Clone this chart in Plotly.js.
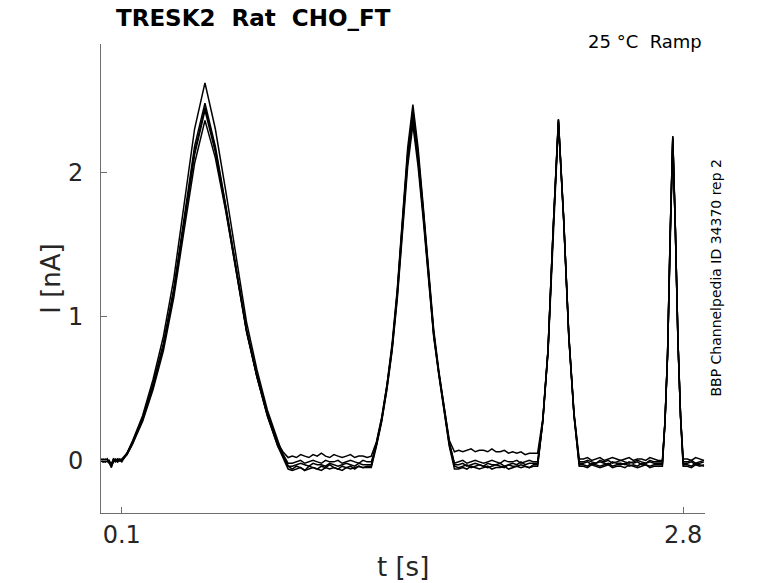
<!DOCTYPE html>
<html>
<head>
<meta charset="utf-8">
<script src="https://cdn.plot.ly/plotly-3.0.1.min.js"></script>
<style>
  html, body { margin: 0; padding: 0; background: #fff; }
  #chart { width: 778px; height: 583px; }
</style>
</head>
<body>
<div id="chart"></div>
<script>
/* =============================================
   TRESK2 ramp sweeps — Plotly recreation
   ============================================= */

// ── Data ──────────────────────────────────────
const tSec = [
  0.00, 0.01, 0.02, 0.03, 0.04, 0.05, 0.06, 0.07, 0.08, 0.09,
  0.10, 0.125, 0.15, 0.20, 0.25, 0.30, 0.35, 0.40, 0.45, 0.50, 0.55, 0.60, 0.65, 0.70, 0.75, 0.80, 0.85, 0.875, 0.90,
  0.92, 0.94, 0.96, 0.98, 1.00, 1.02, 1.04, 1.06, 1.08, 1.10, 1.12, 1.14, 1.16, 1.18, 1.20, 1.22, 1.24, 1.26, 1.28,
  1.30, 1.325, 1.35, 1.375, 1.40, 1.425, 1.45, 1.475, 1.50, 1.525, 1.55, 1.575, 1.60, 1.625, 1.65, 1.675, 1.70,
  1.72, 1.74, 1.76, 1.78, 1.80, 1.82, 1.84, 1.86, 1.88, 1.90, 1.92, 1.94, 1.96, 1.98, 2.00, 2.02, 2.04, 2.06, 2.08,
  2.10, 2.125, 2.15, 2.175, 2.20, 2.225, 2.25, 2.275, 2.30,
  2.32, 2.34, 2.36, 2.38, 2.40, 2.42, 2.44, 2.46, 2.48, 2.50, 2.52, 2.54, 2.56, 2.58, 2.60, 2.62, 2.64, 2.66, 2.68,
  2.70, 2.7125, 2.725, 2.7375, 2.75, 2.7625, 2.775, 2.7875, 2.80,
  2.82, 2.84, 2.86, 2.88, 2.90,
];

const sweepA = [
  0.00, -0.01, 0.01, 0.00, -0.02, -0.05, 0.00, 0.01, -0.01, 0.00,
  0.00, 0.05, 0.13, 0.31, 0.56, 0.86, 1.26, 1.79, 2.30, 2.62, 2.30, 1.87, 1.42, 0.96, 0.63, 0.35, 0.14, 0.04, -0.04,
  -0.06, -0.04, -0.05, -0.07, -0.04, -0.05, -0.06, -0.04, -0.05, -0.03, -0.05, -0.06, -0.04, -0.05, -0.04, -0.06, -0.04, -0.05, -0.04,
  -0.04, 0.12, 0.29, 0.52, 0.81, 1.19, 1.68, 2.17, 2.47, 2.17, 1.76, 1.34, 0.91, 0.62, 0.36, 0.13, -0.03,
  -0.03, -0.02, -0.04, -0.03, -0.02, -0.03, -0.04, -0.02, -0.03, -0.03, -0.02, -0.04, -0.03, -0.02, -0.03, -0.01, -0.03, -0.02, -0.02,
  -0.02, 0.28, 0.77, 1.62, 2.37, 1.69, 0.87, 0.32, -0.02,
  -0.02, -0.01, -0.03, -0.02, -0.01, -0.02, -0.03, -0.01, -0.02, -0.02, -0.03, -0.01, -0.02, -0.01, -0.03, -0.02, -0.01, -0.02, -0.02,
  -0.02, 0.27, 0.74, 1.57, 2.25, 1.61, 0.83, 0.31, -0.02,
  -0.02, -0.01, -0.03, -0.02, -0.01,
];

const sweepB = [
  0.01, 0.00, -0.01, 0.01, -0.01, -0.03, 0.01, 0.00, 0.01, 0.00,
  0.01, 0.05, 0.12, 0.29, 0.53, 0.81, 1.19, 1.69, 2.18, 2.48, 2.18, 1.77, 1.35, 0.91, 0.60, 0.33, 0.12, 0.06, 0.02,
  0.03, 0.02, 0.04, 0.03, 0.02, 0.04, 0.03, 0.05, 0.03, 0.02, 0.04, 0.03, 0.02, 0.03, 0.04, 0.02, 0.03, 0.03, 0.02,
  0.03, 0.13, 0.30, 0.52, 0.79, 1.17, 1.66, 2.13, 2.43, 2.13, 1.74, 1.32, 0.89, 0.61, 0.36, 0.14, 0.06,
  0.07, 0.06, 0.07, 0.08, 0.06, 0.07, 0.07, 0.06, 0.08, 0.06, 0.06, 0.07, 0.05, 0.06, 0.05, 0.06, 0.04, 0.05, 0.05,
  0.05, 0.29, 0.77, 1.61, 2.36, 1.68, 0.87, 0.33, 0.01,
  0.01, 0.02, 0.00, 0.01, 0.02, 0.00, 0.01, 0.02, 0.01, 0.00, 0.01, 0.02, 0.00, 0.01, 0.01, 0.00, 0.02, 0.01, 0.00,
  0.00, 0.27, 0.74, 1.56, 2.24, 1.60, 0.83, 0.31, 0.01,
  0.01, 0.00, 0.02, 0.01, 0.00,
];

const sweepC = [
  -0.01, 0.01, 0.00, -0.01, 0.00, -0.04, -0.01, 0.00, 0.00, 0.01,
  0.00, 0.04, 0.11, 0.28, 0.51, 0.79, 1.17, 1.66, 2.14, 2.45, 2.16, 1.76, 1.34, 0.90, 0.58, 0.32, 0.11, 0.04, -0.02,
  -0.02, -0.01, 0.00, -0.02, -0.01, 0.00, -0.01, -0.02, 0.00, -0.01, -0.01, 0.00, -0.02, -0.01, 0.00, -0.01, -0.02, 0.00, -0.01,
  -0.01, 0.11, 0.28, 0.51, 0.78, 1.16, 1.64, 2.11, 2.40, 2.11, 1.72, 1.31, 0.88, 0.60, 0.35, 0.12, -0.02,
  -0.01, 0.00, -0.02, -0.01, 0.00, -0.01, -0.02, -0.01, 0.00, -0.01, -0.02, 0.00, -0.01, -0.01, 0.00, -0.02, -0.01, 0.00, -0.01,
  -0.01, 0.28, 0.76, 1.61, 2.35, 1.68, 0.86, 0.32, -0.01,
  -0.01, 0.00, -0.01, -0.02, 0.00, -0.01, 0.00, -0.02, -0.01, 0.00, -0.01, -0.02, -0.01, 0.00, -0.01, -0.02, 0.00, -0.01, -0.01,
  -0.01, 0.26, 0.73, 1.56, 2.23, 1.60, 0.82, 0.30, -0.01,
  -0.01, 0.00, -0.02, -0.01, 0.00,
];

const sweepD = [
  0.00, 0.00, -0.01, 0.01, -0.02, -0.02, 0.00, -0.01, 0.01, 0.00,
  -0.01, 0.05, 0.12, 0.29, 0.52, 0.80, 1.18, 1.65, 2.12, 2.43, 2.14, 1.74, 1.32, 0.89, 0.58, 0.31, 0.10, 0.03, -0.04,
  -0.04, -0.03, -0.02, -0.03, -0.04, -0.02, -0.03, -0.03, -0.04, -0.02, -0.03, -0.04, -0.03, -0.02, -0.03, -0.04, -0.02, -0.03, -0.03,
  -0.03, 0.11, 0.28, 0.50, 0.77, 1.14, 1.62, 2.08, 2.37, 2.08, 1.70, 1.29, 0.87, 0.60, 0.34, 0.11, -0.04,
  -0.05, -0.04, -0.03, -0.05, -0.04, -0.03, -0.04, -0.05, -0.04, -0.03, -0.04, -0.05, -0.03, -0.04, -0.04, -0.03, -0.04, -0.05, -0.03,
  -0.03, 0.27, 0.76, 1.61, 2.36, 1.69, 0.86, 0.31, -0.03,
  -0.03, -0.04, -0.02, -0.03, -0.04, -0.03, -0.02, -0.04, -0.03, -0.03, -0.02, -0.04, -0.03, -0.04, -0.02, -0.03, -0.04, -0.03, -0.03,
  -0.03, 0.27, 0.74, 1.57, 2.25, 1.61, 0.83, 0.30, -0.03,
  -0.03, -0.04, -0.02, -0.03, -0.04,
];

const sweepE = [
  0.01, -0.01, 0.00, 0.00, -0.01, -0.03, 0.01, 0.00, -0.01, 0.00,
  0.00, 0.04, 0.11, 0.27, 0.49, 0.76, 1.13, 1.60, 2.06, 2.36, 2.10, 1.73, 1.32, 0.90, 0.58, 0.31, 0.10, 0.02, -0.06,
  -0.07, -0.06, -0.05, -0.07, -0.06, -0.05, -0.06, -0.07, -0.05, -0.06, -0.05, -0.06, -0.07, -0.05, -0.06, -0.05, -0.04, -0.05, -0.05,
  -0.05, 0.10, 0.27, 0.49, 0.76, 1.12, 1.59, 2.04, 2.33, 2.04, 1.67, 1.27, 0.86, 0.59, 0.33, 0.10, -0.06,
  -0.06, -0.05, -0.06, -0.04, -0.05, -0.06, -0.05, -0.04, -0.06, -0.05, -0.05, -0.04, -0.06, -0.05, -0.04, -0.05, -0.04, -0.05, -0.04,
  -0.04, 0.27, 0.75, 1.60, 2.34, 1.67, 0.85, 0.31, -0.04,
  -0.04, -0.05, -0.03, -0.04, -0.05, -0.04, -0.03, -0.05, -0.04, -0.04, -0.05, -0.03, -0.04, -0.05, -0.04, -0.03, -0.05, -0.04, -0.04,
  -0.04, 0.26, 0.73, 1.55, 2.22, 1.59, 0.82, 0.30, -0.04,
  -0.04, -0.05, -0.03, -0.04, -0.03,
];

const sweeps = [sweepA, sweepB, sweepC, sweepD, sweepE];

const xTickVals = [0.1, 2.8];
const xTickText = ["0.1", "2.8"];
const yTickVals = [0, 1, 2];
const yTickText = ["0", "1", "2"];

// ── Style ─────────────────────────────────────
const FONT = "DejaVu Sans, Verdana, sans-serif";
const AXIS_GREY = "#6e6e6e";
const TICK_TEXT = "#262626";

const traces = sweeps.map((ys) => ({
  type: "scatter",
  mode: "lines",
  x: tSec,
  y: ys,
  line: { color: "#000000", width: 1.5 },
  hoverinfo: "skip",
  showlegend: false,
}));

const axisBase = {
  showgrid: false,
  zeroline: false,
  showline: true,
  linecolor: AXIS_GREY,
  linewidth: 1,
  ticks: "inside",
  ticklen: 6,
  tickwidth: 1,
  tickcolor: AXIS_GREY,
  tickfont: { family: FONT, size: 24, color: TICK_TEXT },
  fixedrange: true,
};

const layout = {
  width: 778,
  height: 583,
  margin: { l: 101, r: 73, t: 44, b: 70, pad: 0 },
  paper_bgcolor: "#ffffff",
  plot_bgcolor: "#ffffff",
  showlegend: false,
  xaxis: {
    ...axisBase,
    range: [0, 2.905],
    tickmode: "array",
    tickvals: xTickVals,
    ticktext: xTickText,
    ticklabelstandoff: 0,
  },
  yaxis: {
    ...axisBase,
    range: [-0.365, 2.89],
    tickmode: "array",
    tickvals: yTickVals,
    ticktext: yTickText,
    ticklabelstandoff: 12,
  },
  annotations: [
    {
      text: "<b>TRESK2\u00a0 Rat\u00a0 CHO_FT</b>",
      xref: "paper", yref: "paper",
      x: 0.022, y: 1.056,
      xanchor: "left", yanchor: "middle",
      showarrow: false,
      font: { family: FONT, size: 23, color: "#000000" },
    },
    {
      text: "25 °C\u00a0 Ramp",
      xref: "paper", yref: "paper",
      x: 0.998, y: 1.006,
      xanchor: "right", yanchor: "middle",
      showarrow: false,
      font: { family: FONT, size: 18, color: "#000000" },
    },
    {
      text: "BBP Channelpedia ID 34370 rep 2",
      xref: "paper", yref: "paper",
      x: 1.019, y: 0.503,
      xanchor: "center", yanchor: "middle",
      textangle: -90,
      showarrow: false,
      font: { family: FONT, size: 14, color: "#000000" },
    },
    {
      text: "t [s]",
      xref: "paper", yref: "paper",
      x: 0.5, y: -0.116,
      xanchor: "center", yanchor: "middle",
      showarrow: false,
      font: { family: FONT, size: 26, color: TICK_TEXT },
    },
    {
      text: "I [nA]",
      xref: "paper", yref: "paper",
      x: -0.084, y: 0.5,
      xanchor: "center", yanchor: "middle",
      textangle: -90,
      showarrow: false,
      font: { family: FONT, size: 26, color: TICK_TEXT },
    },
  ],
};

Plotly.newPlot("chart", traces, layout, { staticPlot: true, displayModeBar: false });
</script>
</body>
</html>
